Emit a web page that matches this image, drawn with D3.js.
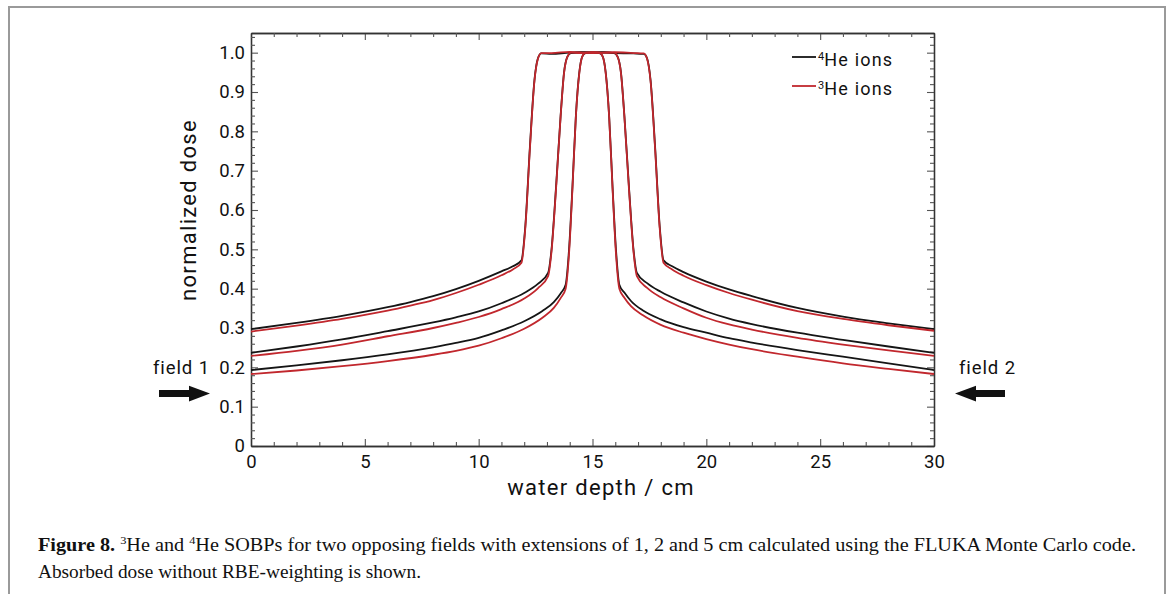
<!DOCTYPE html>
<html>
<head>
<meta charset="utf-8">
<script src="https://cdn.jsdelivr.net/npm/d3@7"></script>
<style>
  body { margin: 0; background: #fff; }
  svg { display: block; }
</style>
</head>
<body>
<svg id="chart"></svg>
<script>
// depth grids (cm), one per SOBP extension (1, 2 and 5 cm)
const depth1cm = [0, 2, 4, 6, 8, 9, 10, 11, 12, 12.8, 13.3, 13.6, 13.82, 13.97, 14.12, 14.27, 14.42, 14.55, 14.7, 15,
  15.3, 15.45, 15.58, 15.73, 15.88, 16.03, 16.18, 16.4, 16.7, 17.2, 18, 19, 20, 21, 22, 24, 26, 28, 30];
const depth2cm = [0, 2, 4, 6, 8, 9, 10, 11, 12, 12.6, 13.05, 13.2, 13.4, 13.6, 13.75, 13.9, 14.05, 14.5, 15, 15.5,
  15.95, 16.1, 16.25, 16.4, 16.6, 16.8, 16.95, 17.4, 18, 19, 20, 21, 22, 24, 26, 28, 30];
const depth5cm = [0, 2, 4, 6, 7, 8, 9, 10, 11, 11.5, 11.88, 12.05, 12.25, 12.45, 12.6, 12.75, 13.2, 14, 15, 16, 16.8,
  17.25, 17.4, 17.55, 17.75, 17.95, 18.12, 18.5, 19, 20, 21, 22, 24, 26, 28, 30];

// normalized dose, 4He ions
const he4_1cm = [0.193, 0.205, 0.218, 0.233, 0.251, 0.262, 0.275, 0.294, 0.317, 0.343, 0.366, 0.388, 0.41,
  0.5, 0.66, 0.84, 0.95, 0.99, 0.999, 1.0, 0.999, 0.99, 0.95, 0.84, 0.66, 0.5,
  0.41, 0.39, 0.368, 0.345, 0.322, 0.302, 0.288, 0.274, 0.263, 0.244, 0.227, 0.21, 0.193];
const he4_2cm = [0.237, 0.253, 0.271, 0.292, 0.314, 0.327, 0.342, 0.363, 0.389, 0.412, 0.44,
  0.5, 0.66, 0.84, 0.95, 0.99, 0.999, 1.001, 1.0, 1.001, 0.999, 0.99, 0.95, 0.84, 0.66, 0.5, 0.44,
  0.414, 0.392, 0.365, 0.342, 0.324, 0.31, 0.288, 0.27, 0.253, 0.237];
const he4_5cm = [0.297, 0.313, 0.331, 0.353, 0.366, 0.381, 0.399, 0.42, 0.444, 0.457, 0.472,
  0.56, 0.76, 0.93, 0.985, 0.998, 0.997, 1.0, 1.001, 0.999, 0.998, 0.997, 0.985, 0.93, 0.76, 0.56, 0.472,
  0.457, 0.442, 0.418, 0.398, 0.381, 0.351, 0.329, 0.312, 0.297];

// normalized dose, 3He ions
const he3_1cm = [0.183, 0.192, 0.203, 0.216, 0.232, 0.242, 0.255, 0.274, 0.298, 0.326, 0.351, 0.376, 0.40,
  0.49, 0.655, 0.838, 0.948, 0.99, 1.0, 1.001, 1.0, 0.99, 0.948, 0.838, 0.655, 0.49,
  0.40, 0.377, 0.355, 0.333, 0.308, 0.288, 0.272, 0.258, 0.246, 0.227, 0.21, 0.196, 0.183];
const he3_2cm = [0.229, 0.242, 0.258, 0.279, 0.300, 0.313, 0.328, 0.348, 0.375, 0.401, 0.432,
  0.495, 0.655, 0.838, 0.948, 0.99, 1.0, 0.999, 1.001, 1.0, 1.0, 0.99, 0.948, 0.838, 0.655, 0.495, 0.432,
  0.402, 0.378, 0.35, 0.326, 0.309, 0.296, 0.275, 0.258, 0.243, 0.229];
const he3_5cm = [0.291, 0.306, 0.323, 0.344, 0.357, 0.371, 0.389, 0.41, 0.434, 0.449, 0.466,
  0.555, 0.755, 0.928, 0.984, 0.999, 0.999, 1.002, 0.999, 1.001, 0.999, 0.998, 0.984, 0.928, 0.755, 0.555, 0.466,
  0.449, 0.433, 0.409, 0.389, 0.372, 0.343, 0.323, 0.307, 0.293];

// axes and legend
const xTicks = [0, 5, 10, 15, 20, 25, 30];
const yTicks = [0, 0.1, 0.2, 0.3, 0.4, 0.5, 0.6, 0.7, 0.8, 0.9, 1.0];
const legendMass = ["4", "3"];
const legendText = ["He ions", "He ions"];

// chart dimensions
const width = 1171;
const height = 594;
const plotLeft = 251;
const plotRight = 934;
const plotTop = 33;
const plotBottom = 446;

const black = "#151515";
const red = "#c1272d";
const tickFont = "Roboto, 'DejaVu Sans', sans-serif";

const svg = d3.select("#chart")
    .attr("width", width)
    .attr("height", height)
    .attr("viewBox", [0, 0, width, height]);

// figure frame
svg.append("rect")
    .attr("x", 9).attr("y", 7)
    .attr("width", 1156).attr("height", 620)
    .attr("fill", "none")
    .attr("stroke", "#9a9a9a")
    .attr("stroke-width", 2);

const x = d3.scaleLinear().domain([0, 30]).range([plotLeft, plotRight]);
const y = d3.scaleLinear().domain([0, 1.05]).range([plotBottom, plotTop]);

// minor tick positions
const xMinor = d3.range(0, 31).filter(d => d % 5 !== 0);
const yMinor = d3.range(1, 53).map(i => i * 0.02).filter(d => Math.abs(d * 10 - Math.round(d * 10)) > 1e-6);

function styleAxis(g) {
  g.select(".domain").attr("stroke", "#333").attr("stroke-width", 1.3);
  g.selectAll(".tick line").attr("stroke", "#555").attr("stroke-width", 1.1);
  g.selectAll("text")
    .attr("font-family", tickFont)
    .attr("font-size", 18.5)
    .attr("fill", "#111");
}

// the four sides, major ticks pointing inward
svg.append("g")
    .attr("transform", `translate(0,${plotBottom})`)
    .call(d3.axisBottom(x).tickValues(xTicks).tickSize(-7).tickPadding(9).tickSizeOuter(0))
    .call(styleAxis);
svg.append("g")
    .attr("transform", `translate(0,${plotTop})`)
    .call(d3.axisTop(x).tickValues(xTicks).tickSize(-7).tickFormat("").tickSizeOuter(0))
    .call(styleAxis);
svg.append("g")
    .attr("transform", `translate(${plotLeft},0)`)
    .call(d3.axisLeft(y).tickValues(yTicks).tickSize(-7).tickPadding(6).tickSizeOuter(0)
      .tickFormat(d => d === 0 ? "0" : d.toFixed(1)))
    .call(styleAxis);
svg.append("g")
    .attr("transform", `translate(${plotRight},0)`)
    .call(d3.axisRight(y).tickValues(yTicks).tickSize(-7).tickFormat("").tickSizeOuter(0))
    .call(styleAxis);

// minor ticks
svg.append("g")
    .attr("transform", `translate(0,${plotBottom})`)
    .call(d3.axisBottom(x).tickValues(xMinor).tickSize(-4).tickFormat("").tickSizeOuter(0))
    .call(styleAxis);
svg.append("g")
    .attr("transform", `translate(0,${plotTop})`)
    .call(d3.axisTop(x).tickValues(xMinor).tickSize(-4).tickFormat("").tickSizeOuter(0))
    .call(styleAxis);
svg.append("g")
    .attr("transform", `translate(${plotLeft},0)`)
    .call(d3.axisLeft(y).tickValues(yMinor).tickSize(-4).tickFormat("").tickSizeOuter(0))
    .call(styleAxis);
svg.append("g")
    .attr("transform", `translate(${plotRight},0)`)
    .call(d3.axisRight(y).tickValues(yMinor).tickSize(-4).tickFormat("").tickSizeOuter(0))
    .call(styleAxis);

// axis titles
svg.append("text")
    .attr("x", 601).attr("y", 495)
    .attr("text-anchor", "middle")
    .attr("font-family", tickFont)
    .attr("font-size", 22)
    .attr("letter-spacing", 1.3)
    .attr("fill", "#111")
    .text("water depth / cm");

svg.append("text")
    .attr("transform", "translate(196,210) rotate(-90)")
    .attr("text-anchor", "middle")
    .attr("font-family", tickFont)
    .attr("font-size", 22)
    .attr("letter-spacing", 1.3)
    .attr("fill", "#111")
    .text("normalized dose");

// the curves: all 4He first, 3He drawn on top
const series = [
  { depth: depth5cm, dose: he4_5cm, color: black },
  { depth: depth2cm, dose: he4_2cm, color: black },
  { depth: depth1cm, dose: he4_1cm, color: black },
  { depth: depth5cm, dose: he3_5cm, color: red },
  { depth: depth2cm, dose: he3_2cm, color: red },
  { depth: depth1cm, dose: he3_1cm, color: red }
];

const line = d3.line()
    .x(d => x(d[0]))
    .y(d => y(d[1]))
    .curve(d3.curveMonotoneX);

svg.append("g")
    .attr("fill", "none")
    .attr("stroke-width", 1.8)
    .attr("stroke-linejoin", "round")
  .selectAll("path")
  .data(series)
  .join("path")
    .attr("stroke", d => d.color)
    .attr("d", d => line(d3.zip(d.depth, d.dose)));

// legend
const legend = svg.append("g")
    .attr("font-family", tickFont)
    .attr("fill", "#111");

legend.selectAll("line")
  .data([black, red])
  .join("line")
    .attr("x1", 792).attr("x2", 816)
    .attr("y1", (d, i) => 57 + i * 29)
    .attr("y2", (d, i) => 57 + i * 29)
    .attr("stroke", d => d)
    .attr("stroke-width", 1.8);

const legendLabel = legend.selectAll("text")
  .data(legendText)
  .join("text")
    .attr("x", 818)
    .attr("y", (d, i) => 65.5 + i * 29)
    .attr("font-size", 18)
    .attr("letter-spacing", 1.2);
legendLabel.append("tspan")
    .attr("font-size", 11)
    .attr("letter-spacing", 0)
    .attr("dy", -6)
    .text((d, i) => legendMass[i]);
legendLabel.append("tspan")
    .attr("dy", 6)
    .text(d => d);

// field arrows and labels
const fields = svg.append("g")
    .attr("font-family", tickFont)
    .attr("font-size", 18.5)
    .attr("letter-spacing", 0.9)
    .attr("fill", "#111");

fields.append("text").attr("x", 153).attr("y", 374).text("field 1");
fields.append("text").attr("x", 959).attr("y", 374).text("field 2");

fields.append("path")
    .attr("d", "M159,390H189V385.7L210,393.5L189,401.5V397H159Z");
fields.append("path")
    .attr("d", "M1005,390H976V385.7L955,393.5L976,401.5V397H1005Z");

// caption
const caption = svg.append("g")
    .attr("font-family", "'Liberation Serif', 'DejaVu Serif', serif")
    .attr("font-size", 18)
    .attr("fill", "#111");

const cap1 = caption.append("text")
    .attr("x", 38).attr("y", 551)
    .attr("textLength", 1098)
    .attr("lengthAdjust", "spacingAndGlyphs");
cap1.append("tspan").attr("font-weight", "bold").text("Figure 8. ");
cap1.append("tspan").attr("font-size", 11).attr("dy", -7).text("3");
cap1.append("tspan").attr("dy", 7).text("He and ");
cap1.append("tspan").attr("font-size", 11).attr("dy", -7).text("4");
cap1.append("tspan").attr("dy", 7)
    .text("He SOBPs for two opposing fields with extensions of 1, 2 and 5  cm calculated using the FLUKA Monte Carlo code.");

caption.append("text")
    .attr("x", 38).attr("y", 578)
    .attr("textLength", 383)
    .attr("lengthAdjust", "spacingAndGlyphs")
    .text("Absorbed dose without RBE-weighting is shown.");
</script>
</body>
</html>
